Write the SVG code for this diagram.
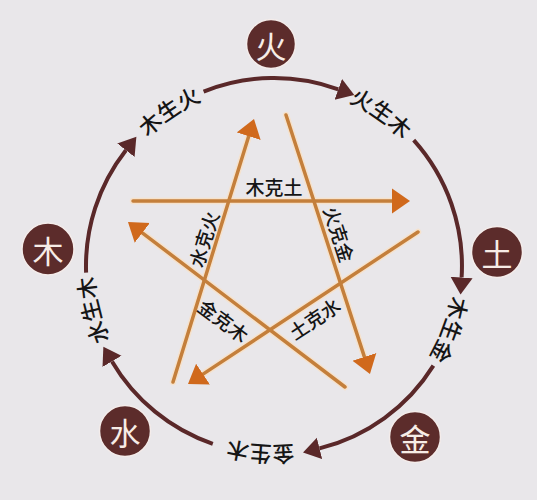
<svg xmlns="http://www.w3.org/2000/svg" width="537" height="500" viewBox="0 0 537 500">
<defs>
<style>
.bg{fill:#e9e7ea}
.arc{fill:none;stroke:#5a2829;stroke-width:4;marker-end:url(#ah)}
.halo{fill:none;stroke:#f6e2cc;stroke-width:6.5;stroke-linecap:round}
.line{fill:none;stroke:#c47f3b;stroke-width:3.5;stroke-linecap:round;marker-end:url(#oh)}
.el circle{fill:#5c2c2b;stroke:#f4ecea;stroke-width:1.5}
.el text{fill:#f7ece6;font-family:"Noto Sans CJK SC",sans-serif;font-size:31px;text-anchor:middle;dominant-baseline:central}
.lbl{fill:#151515;font-family:"Noto Sans CJK SC",sans-serif;font-size:19px;font-weight:500;text-anchor:middle;dominant-baseline:central}
.arcl{fill:#151515;font-family:"Noto Sans CJK SC",sans-serif;font-size:22px;font-weight:500;text-anchor:middle}
</style>
<marker id="ah" markerUnits="userSpaceOnUse" viewBox="0 -12 18 24" markerWidth="18" markerHeight="24" refX="0" refY="0" orient="auto">
<path d="M0,-11 L17,0 L0,11 Z" fill="#5a2829"/>
</marker>
<marker id="oh" markerUnits="userSpaceOnUse" viewBox="0 -13 19 26" markerWidth="19" markerHeight="26" refX="0" refY="0" orient="auto">
<path d="M0,-12.5 L18,0 L0,12.5 Z" fill="#d0691c"/>
</marker>
<path id="tp" d="M454,266 A180,180 0 1 1 94,266 A180,180 0 1 1 454,266"/>
</defs>
<rect class="bg" x="0" y="0" width="537" height="500"/>
<g id="connectors">
<path class="arc" d="M86.1,272.6 A188,188 0 0 1 125.9,150.2"/>
<path class="arc" d="M203.6,91.7 A188,188 0 0 1 338.3,89.3"/>
<path class="arc" d="M413.7,140.2 A188,188 0 0 1 461.6,277.5"/>
<path class="arc" d="M433.4,365.6 A188,188 0 0 1 319.5,448.4"/>
<path class="arc" d="M212.8,443.8 A188,188 0 0 1 112.0,361.4"/>
<path class="halo" d="M133,201 L392,201"/>
<path class="halo" d="M173,382 L248.7,136.2"/>
<path class="halo" d="M286,115 L364.4,356.9"/>
<path class="halo" d="M418,232 L203.0,374.1"/>
<path class="halo" d="M345,387 L142.3,232.9"/>
<path class="line" d="M133,201 L392,201"/>
<path class="line" d="M173,382 L248.7,136.2"/>
<path class="line" d="M286,115 L364.4,356.9"/>
<path class="line" d="M418,232 L203.0,374.1"/>
<path class="line" d="M345,387 L142.3,232.9"/>
</g>
<g id="arc-labels">
<text class="arcl"><textPath href="#tp" startOffset="740.8">木生火</textPath></text>
<text class="arcl"><textPath href="#tp" startOffset="957.9">火生木</textPath></text>
<text class="arcl"><textPath href="#tp" startOffset="62.8">木生金</textPath></text>
<text class="arcl"><textPath href="#tp" startOffset="295.6">金生木</textPath></text>
<text class="arcl"><textPath href="#tp" startOffset="522.1">水生木</textPath></text>
</g>
<g id="star-labels">
<text class="lbl" x="274" y="186">木克土</text>
<text class="lbl" transform="translate(203,239) rotate(-72.7)">水克火</text>
<text class="lbl" transform="translate(340,234) rotate(72)">火克金</text>
<text class="lbl" transform="translate(224,320) rotate(37)">金克木</text>
<text class="lbl" transform="translate(314,318) rotate(-33.5)">土克水</text>
</g>
<g id="fire" class="el"><circle cx="271" cy="44" r="24.5"/><text x="271" y="44">火</text></g>
<g id="earth" class="el"><circle cx="497" cy="252" r="25.5"/><text x="497" y="252">土</text></g>
<g id="metal" class="el"><circle cx="415" cy="437" r="25.5"/><text x="415" y="437">金</text></g>
<g id="water" class="el"><circle cx="125" cy="431" r="25.5"/><text x="125" y="431">水</text></g>
<g id="wood" class="el"><circle cx="48" cy="249" r="26"/><text x="48" y="249">木</text></g>
</svg>
